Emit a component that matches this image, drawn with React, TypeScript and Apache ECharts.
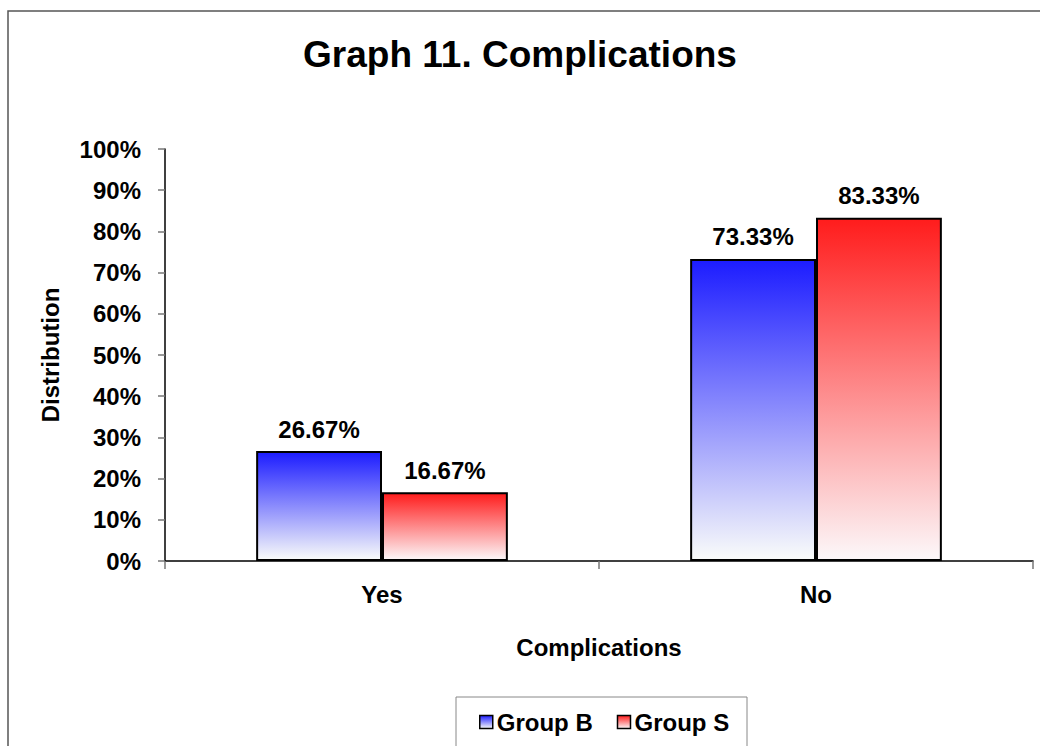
import React, { useEffect, useRef } from "react";
import * as echarts from "echarts";

const categories = ["Yes", "No"];
const groupB = [26.67, 73.33];
const groupS = [16.67, 83.33];
const seriesNames = ["Group B", "Group S"];

const FONT = '"Liberation Sans", Arial, sans-serif';

const fade = (top: string, bottom: string) =>
  new echarts.graphic.LinearGradient(0, 0, 0, 1, [
    { offset: 0, color: top },
    { offset: 1, color: bottom },
  ]);

export default function App() {
  const ref = useRef<HTMLDivElement>(null);

  useEffect(() => {
    if (!ref.current) return;
    const chart = echarts.init(ref.current, undefined, { renderer: "svg" });
    const labelStyle = {
      show: true,
      position: "top" as const,
      distance: 10,
      fontFamily: FONT,
      fontWeight: "bold" as const,
      fontSize: 24,
      color: "#000",
      formatter: (p: any) => `${p.value.toFixed(2)}%`,
    };
    chart.setOption({
      animation: false,
      backgroundColor: "#ffffff",
      title: {
        text: "Graph 11. Complications",
        left: "center",
        top: 36,
        padding: 0,
        textStyle: { fontFamily: FONT, fontWeight: "bold", fontSize: 37, color: "#000" },
      },
      graphic: [
        {
          type: "rect",
          shape: { x: 8, y: 11, width: 1100, height: 800 },
          style: { fill: "none", stroke: "#555", lineWidth: 1.5 },
          silent: true,
        },
        {
          type: "rect",
          shape: { x: 456, y: 697, width: 291, height: 80 },
          style: { fill: "none", stroke: "#888", lineWidth: 1 },
          silent: true,
        },
      ],
      legend: {
        data: seriesNames,
        left: 479,
        top: 710,
        padding: 0,
        itemWidth: 13,
        itemHeight: 13,
        itemGap: 24,
        icon: "rect",
        itemStyle: { borderColor: "#000", borderWidth: 1.5 },
        textStyle: { fontFamily: FONT, fontWeight: "bold", fontSize: 24, color: "#000", padding: [0, 0, 0, -1] },
      },
      grid: { left: 165, right: 7, top: 149, bottom: 185 },
      xAxis: {
        type: "category",
        data: categories,
        name: "Complications",
        nameLocation: "middle",
        nameGap: 74,
        nameTextStyle: { fontFamily: FONT, fontWeight: "bold", fontSize: 24, color: "#000" },
        axisLine: { lineStyle: { color: "#000", width: 1.5 } },
        axisTick: { show: true, length: 8, lineStyle: { color: "#777", width: 1.5 } },
        axisLabel: { margin: 21, fontFamily: FONT, fontWeight: "bold", fontSize: 24, color: "#000" },
      },
      yAxis: {
        type: "value",
        min: 0,
        max: 100,
        interval: 10,
        name: "Distribution",
        nameLocation: "middle",
        nameGap: 103,
        nameTextStyle: { fontFamily: FONT, fontWeight: "bold", fontSize: 24, color: "#000" },
        axisLine: { show: true, lineStyle: { color: "#000", width: 1.5 } },
        axisTick: { show: true, length: 7, lineStyle: { color: "#777", width: 1.5 } },
        splitLine: { show: false },
        axisLabel: {
          margin: 24,
          formatter: "{value}%",
          fontFamily: FONT,
          fontWeight: "bold",
          fontSize: 24,
          color: "#000",
        },
      },
      series: [
        {
          name: seriesNames[0],
          type: "bar",
          data: groupB,
          barGap: "0%",
          barCategoryGap: "42%",
          itemStyle: { color: fade("#1c1cff", "#fafcfa"), borderColor: "#000", borderWidth: 2 },
          label: labelStyle,
        },
        {
          name: seriesNames[1],
          type: "bar",
          data: groupS,
          barGap: "0%",
          barCategoryGap: "42%",
          itemStyle: { color: fade("#ff1c1c", "#fcf8fa"), borderColor: "#000", borderWidth: 2 },
          label: labelStyle,
        },
      ],
    });
    return () => chart.dispose();
  }, []);

  return (
    <div
      ref={ref}
      style={{ position: "fixed", left: 0, top: 0, width: 1040, height: 746, background: "#fff" }}
    />
  );
}
